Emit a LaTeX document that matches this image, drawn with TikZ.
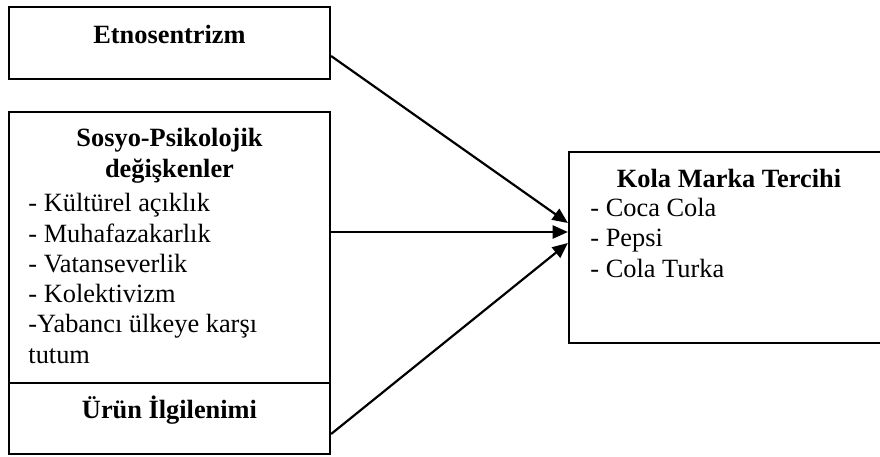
\documentclass[tikz,border=0pt]{standalone}
\usepackage{fontspec}
\setmainfont{Liberation Serif}
\usetikzlibrary{arrows.meta, positioning}

\begin{document}
\begin{tikzpicture}[
    >={Triangle[length=7pt, width=6pt]},
    every node/.style={font=\fontsize{12}{13.8}\selectfont},
    box/.style={draw, line width=1pt, inner sep=0pt},
    ttl/.style={font=\fontsize{12}{13.8}\selectfont\bfseries, anchor=base, align=center, inner sep=0pt},
    lst/.style={anchor=north west, align=left, inner sep=0pt},
    arr/.style={->, line width=1pt},
]
\useasboundingbox (0,0) rectangle (14.08,-7.312);
% ----- boxes on the left
\node[box, minimum width=5.136cm, minimum height=1.152cm] (etno) at (2.712,-0.688) {};
\node[ttl] at (2.712,-0.688) {Etnosentrizm};
\node[box, minimum width=5.136cm, minimum height=4.336cm] (sosyo) at (2.712,-3.96) {};
\node[ttl] at (2.712,-2.832) {Sosyo-Psikolojik\\değişkenler};
\node[lst] at (0.448,-3.088) {- Kültürel açıklık\\- Muhafazakarlık\\- Vatanseverlik\\- Kolektivizm\\-Yabancı ülkeye karşı\\tutum};
\node[box, minimum width=5.136cm, minimum height=1.136cm] (urun) at (2.712,-6.696) {};
\node[ttl] at (2.712,-6.688) {Ürün İlgilenimi};
% ----- box on the right
\node[box, minimum width=5.296cm, minimum height=3.056cm] (kola) at (11.752,-3.96) {};
\node[ttl] at (11.664,-3.0) {Kola Marka Tercihi};
\node[lst] at (9.44,-3.164) {- Coca Cola\\- Pepsi\\- Cola Turka};
% ----- arrows
\draw[arr] ([yshift=-0.208cm]etno.east) -- ([yshift=0.392cm]kola.west);
\draw[arr] ([yshift=0.248cm]sosyo.east) -- ([yshift=0.248cm]kola.west);
\draw[arr] ([yshift=-0.248cm]urun.east) -- ([yshift=0.072cm]kola.west);
\end{tikzpicture}
\end{document}
